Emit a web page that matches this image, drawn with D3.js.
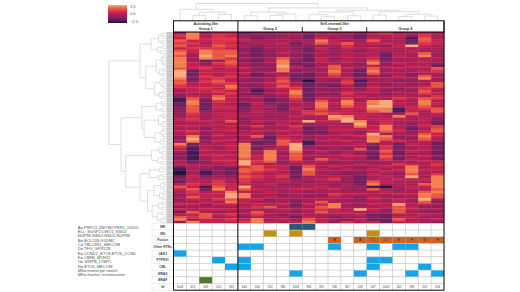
<!DOCTYPE html>
<html>
<head>
<meta charset="utf-8">
<script src="https://cdn.jsdelivr.net/npm/d3@7"></script>
<style>
  html, body { margin: 0; padding: 0; background: #fff; }
  svg { display: block; }
  text { font-family: "Liberation Sans", Arial, sans-serif; }
</style>
</head>
<body>
<div id="chart"></div>
<script>
//expression levels, 0 = darkest, 9 = lightest. one row per gene, one value per patient
var heatLevels = [
  [3,8,4,5,5,2,3,3,4,4,3,4,4,4,3,5,6,4,4,5,4],
  [6,8,4,6,5,3,3,3,3,4,2,4,4,3,2,4,4,5,3,6,4],
  [5,8,5,6,6,4,2,3,4,3,2,5,3,4,2,5,4,4,1,7,4],
  [7,5,5,6,6,5,4,4,4,4,4,8,5,4,4,7,4,4,2,7,5],
  [6,6,4,6,5,3,4,4,5,2,4,7,5,7,4,5,5,4,2,6,5],
  [7,5,5,7,6,4,3,4,4,3,3,4,4,6,4,4,3,5,9,5,4],
  [5,6,6,6,5,3,2,4,4,3,2,5,3,5,4,5,4,4,4,4,4],
  [7,5,8,7,7,3,2,3,4,4,2,4,4,4,3,4,4,4,5,4,4],
  [8,4,8,7,7,4,2,3,5,3,3,4,3,4,4,4,2,4,4,7,3],
  [7,4,9,7,8,3,2,3,4,3,2,4,4,5,4,5,2,5,4,8,4],
  [8,4,8,7,6,4,3,4,7,4,2,5,3,4,4,5,2,4,4,4,4],
  [8,4,2,4,7,3,2,4,8,3,2,5,4,5,4,7,3,4,4,5,4],
  [8,5,3,6,7,4,3,4,8,2,3,4,4,4,3,8,3,5,4,4,3],
  [8,5,5,5,6,4,3,3,9,4,2,4,7,4,4,5,4,4,5,5,2],
  [7,5,6,4,5,5,3,3,8,4,3,4,7,5,3,7,4,5,4,4,7],
  [9,2,5,5,5,4,4,4,8,3,4,4,8,4,2,8,4,4,4,5,6],
  [9,2,5,4,5,5,2,4,4,3,2,4,7,4,2,7,4,4,3,4,4],
  [9,3,6,5,6,4,2,3,5,2,2,4,6,4,2,4,3,5,3,7,4],
  [8,2,5,6,5,4,3,4,6,2,2,4,4,5,3,4,4,4,4,8,4],
  [7,3,6,7,5,3,3,4,7,3,0,4,3,6,1,4,4,3,3,4,4],
  [7,4,5,6,6,4,4,5,6,4,2,3,3,6,2,4,3,4,3,4,7],
  [6,5,5,5,8,3,3,4,7,5,2,3,2,4,2,5,4,4,4,5,7],
  [5,5,6,5,7,4,2,4,5,6,2,3,3,4,3,5,4,3,4,6,5],
  [3,5,5,6,5,4,1,3,4,8,2,4,3,5,4,5,3,4,3,7,4],
  [4,4,4,5,6,3,2,4,5,8,2,3,3,6,4,4,3,4,4,6,5],
  [3,5,4,7,5,4,4,3,4,7,2,4,4,5,5,4,4,5,4,4,6],
  [1,7,3,8,5,3,4,2,3,6,2,5,4,6,4,4,4,6,5,7,6],
  [1,8,2,6,5,4,4,2,3,5,3,7,4,8,4,8,9,4,4,8,4],
  [2,8,2,5,4,2,5,3,3,4,4,8,5,8,5,8,9,5,4,8,5],
  [2,7,2,5,5,2,4,4,2,4,4,8,4,7,5,9,9,4,5,7,4],
  [3,7,2,5,5,3,4,3,2,5,3,7,4,5,5,8,8,1,5,6,7],
  [3,7,3,4,4,3,5,4,3,4,6,6,5,5,4,7,8,1,5,4,7],
  [3,6,4,5,5,4,4,4,4,4,6,7,6,5,5,5,4,4,7,4,5],
  [3,5,3,4,5,4,4,3,3,5,4,4,9,8,5,4,4,8,4,4,4],
  [5,6,4,5,5,3,4,4,4,4,4,4,8,9,5,5,5,5,4,5,3],
  [4,5,5,4,7,3,5,4,4,5,9,5,5,9,8,4,5,4,4,4,2],
  [4,4,4,5,4,4,4,3,5,4,3,4,4,4,9,4,6,4,3,5,2],
  [5,5,4,4,5,4,6,4,4,6,3,3,4,4,8,5,8,4,3,5,6],
  [4,4,3,5,5,3,4,4,4,5,2,3,5,5,5,5,8,5,2,4,7],
  [5,6,4,4,5,4,5,4,5,4,2,2,4,4,3,5,7,5,3,5,7],
  [4,5,3,5,4,5,4,3,4,5,3,3,4,5,4,9,4,4,4,7,5],
  [3,8,3,5,4,4,7,2,5,4,3,4,4,4,5,8,8,3,4,8,5],
  [4,9,3,4,5,4,4,2,6,5,4,4,5,4,4,8,7,4,3,7,4],
  [3,8,3,5,4,4,2,2,7,5,1,4,4,5,4,8,5,5,4,5,3],
  [8,2,4,4,5,8,2,3,7,9,1,4,4,4,5,3,4,2,5,4,2],
  [6,2,4,4,5,8,3,3,5,9,3,4,4,4,4,2,6,2,4,4,2],
  [5,1,5,4,5,8,2,5,4,9,4,3,4,3,7,2,6,3,4,5,3],
  [4,1,4,4,4,8,4,8,4,8,3,5,3,4,4,3,7,2,5,4,2],
  [3,1,5,5,5,8,4,8,3,7,4,4,4,5,3,2,6,2,4,4,2],
  [3,1,4,5,4,8,5,8,4,7,4,4,4,5,5,2,7,3,4,5,3],
  [3,1,4,5,5,7,5,8,4,7,3,7,5,4,4,2,6,2,5,4,2],
  [4,2,3,5,5,9,6,7,3,5,4,5,3,4,3,4,4,4,4,5,5],
  [5,4,4,4,5,9,5,4,4,4,5,4,4,4,5,4,4,6,5,4,6],
  [2,4,4,3,3,6,7,5,5,2,7,4,5,4,3,4,5,4,8,4,5],
  [1,4,3,3,2,7,7,6,5,2,8,5,4,5,4,5,4,5,8,5,5],
  [0,4,1,3,2,7,6,5,4,2,7,4,4,3,3,4,5,4,8,4,4],
  [0,4,1,3,2,6,5,4,5,3,7,4,3,3,3,5,4,3,7,4,6],
  [2,5,3,4,3,7,6,5,6,2,4,4,5,4,2,4,5,4,9,4,8],
  [3,4,4,5,4,6,5,4,4,3,4,5,6,3,2,4,4,5,5,5,8],
  [2,5,4,6,4,6,4,4,5,4,3,4,4,3,2,7,5,4,4,4,8],
  [4,6,5,6,5,5,4,5,3,3,4,4,3,4,2,8,4,4,4,7,8],
  [7,5,1,7,5,9,4,4,4,4,4,5,4,4,4,1,0,4,5,5,8],
  [5,7,2,8,5,7,5,4,4,5,5,4,5,3,3,7,4,3,4,4,7],
  [4,6,4,5,8,5,4,5,4,4,3,4,4,4,4,4,5,4,4,7,8],
  [3,5,5,5,9,8,4,4,3,4,4,3,6,5,5,4,4,5,5,8,7],
  [4,7,5,5,9,8,4,5,4,4,3,4,5,4,3,5,4,3,4,8,7],
  [3,5,4,6,7,5,5,3,4,3,4,4,4,4,3,5,4,5,4,9,4],
  [4,4,5,4,8,5,4,4,4,3,4,7,4,4,4,4,4,5,4,7,3],
  [5,5,3,5,5,4,5,4,5,2,5,5,8,4,3,5,4,9,4,5,4],
  [3,4,4,4,4,5,6,7,4,3,4,7,8,4,4,4,5,7,5,3,3],
  [5,4,5,5,5,4,4,4,5,4,5,6,5,4,9,5,3,7,5,4,4],
  [2,7,4,3,4,4,7,4,4,3,4,7,5,5,4,4,4,7,4,3,3],
  [4,5,7,5,6,4,6,4,3,4,4,4,4,4,5,2,2,4,4,5,4],
  [7,6,7,4,5,3,5,4,4,2,5,4,3,4,4,3,2,5,5,4,4],
  [8,4,5,5,6,5,8,4,5,4,7,5,4,3,5,2,2,7,4,4,5],
  [3,8,5,5,5,6,8,5,4,5,8,5,3,6,4,5,2,5,5,4,3]
];

var patientIds = ["1024","415","343","241","353","344","244","322","385","1009","394","351","536","307","423","247","1003","242","296","253","594"];

//groups: first and last patient index of each
var groupNames = [["Activating-like", "Group 1"], ["", "Group 2"], ["Self-renewal-like", "Group 3"], ["", "Group 4"]];
var groupStarts = [0, 5, 10, 15];
var groupEnds = [4, 9, 14, 20];

//annotation rows, and the patients marked in each
var annotRows = ["MK", "MS", "Fusion", "Other RTKs", "JAK3", "PTPN11", "CBL", "NRAS", "BRAF", "Id"];
var mkCols = [9, 10];
var msCols = [7, 9, 15];
var fusionCols = [12, 14, 15, 16, 17, 18, 19, 20];
var fusionLetters = ["A", "B", "C", "D", "E", "F", "G", "H"];
var rtkCols = [5, 6, 12, 15, 17, 18];
var jakCols = [0];
var ptpnCols = [3, 5, 15, 16];
var cblCols = [4, 5, 15, 19];
var rasCols = [9, 14, 18, 20];
var brafCols = [2];

var noteLines = [
  "A= PSPC1-ZMYM2;PER1_DDX5;",
  "ELL_SUGP2;LMO1_NSD1;",
  "NUP98-NSD1;NSD1-NUP98",
  "B= BCL11B-G5DMC",
  "C= TBL1XR1_MECOM",
  "D= TFG_GPR128",
  "E= CCND2_ETV6;ETV6_CCND",
  "F= CBFB_MYH11",
  "G= SIRPB_LTBP1",
  "H= ETV6_MECOM",
  "MS= monocyte switch",
  "MK= marker chromosome"
];

var legendTicks = [2.5, 0, -2.5];

//dendrograms as [height, left, right], 0 is a leaf
var colTree = [100,
  [66, 0, [49, [30, 1, 2], [36, 3, 4]]],
  [74,
    [50, [28, 5, 6], [38, [30, 7, 8], 9]],
    [60,
      [50, [34, 10, [22, 11, 12]], [28, 13, 14]],
      [52, [32, 15, 16], [37, [24, 17, 18], [26, 19, 20]]]]]];

var rowU1 = [27,[14,[8,0,[5,0,0]],[9,0,0]],[16,[7,0,0],[10,0,0]]];
var rowU2a = [18,[9,[5,0,0],[6,0,[3,0,0]]],[12,[6,0,0],[8,0,0]]];
var rowU2b = [21,[11,[6,0,0],[7,0,[4,0,0]]],[13,[7,0,0],[9,0,0]]];
var rowL1a = [18,[8,0,[5,0,0]],[9,0,0]];
var rowL1b1 = [14,[7,0,[4,0,0]],[8,[5,0,0],0]];
var rowL1b2 = [20,[9,[5,0,0],[6,0,0]],[11,[6,0,0],0]];
var rowL2a = [26,[13,[6,0,0],[8,0,0]],[15,[7,0,0],[9,0,0]]];
var rowL2b1 = [30,[12,[6,0,0],0],[14,[7,0,0],0]];
var rowL2b2 = [33,[22,[10,[5,0,0],[6,0,0]],[12,[6,0,0],[7,0,0]]],[25,[14,[7,0,0],[8,0,0]],[16,[9,0,0],[10,[5,0,0],0]]]];
var rowTree = [100,
  [46, rowU1, [36, rowU2a, rowU2b]],
  [79,
    [43, rowL1a, [39, rowL1b1, rowL1b2]],
    [71, rowL2a, [46, rowL2b1, rowL2b2]]]];

var levelColors = ["#241238", "#471a55", "#701f5e", "#8e1f5c", "#aa1e56", "#c4214e", "#da3347", "#ea5642", "#f37e4e", "#f8ab7c"];

var width = 520;
var height = 292;
var gridLine = "#c2c2c2";
var treeLine = "#cfcfcf";

var svg = d3.select("#chart").append("svg")
    .attr("width", width)
    .attr("height", height);

var x = d3.scaleBand().domain(d3.range(patientIds.length)).range([173.5, 444]);
var y = d3.scaleBand().domain(d3.range(heatLevels.length)).range([32, 223.4]);
var yAnnot = d3.scaleBand().domain(annotRows).range([223.4, 290.2]);
var color = d3.scaleLinear().domain(d3.range(levelColors.length)).range(levelColors);

//heatmap
var rows = svg.append("g").selectAll("g")
    .data(heatLevels)
    .enter().append("g")
    .attr("transform", function(d, i) { return "translate(0," + y(i) + ")"; });

rows.selectAll("rect")
    .data(function(d) { return d; })
    .enter().append("rect")
    .attr("x", function(d, i) { return x(i); })
    .attr("width", x.bandwidth() + 0.3)
    .attr("height", y.bandwidth() + 0.3)
    .attr("fill", function(d) { return color(d); });

//gene labels are too small to read in the figure, they show as a grey band
svg.append("g").selectAll("line")
    .data(heatLevels)
    .enter().append("line")
    .attr("x1", 166.5)
    .attr("x2", 173)
    .attr("y1", function(d, i) { return y(i) + y.bandwidth() / 2; })
    .attr("y2", function(d, i) { return y(i) + y.bandwidth() / 2; })
    .attr("stroke", "#c6c6c6")
    .attr("stroke-width", y.bandwidth());

//walks a [height, left, right] tree, calls draw for each merge. returns position of the node
function walkTree(node, leafPos, draw) {
  if (!Array.isArray(node)) { return { pos: leafPos(node), h: 0 }; }
  var a = walkTree(node[1], leafPos, draw);
  var b = walkTree(node[2], leafPos, draw);
  draw(a, b, node[0]);
  return { pos: (a.pos + b.pos) / 2, h: node[0] };
}

//column dendrogram
var colHeight = d3.scaleLinear().domain([0, 100]).range([20.5, 3.5]);
var colPaths = [];
walkTree(colTree, function(c) { return x(c) + x.bandwidth() / 2; }, function(a, b, h) {
  colPaths.push("M" + a.pos + "," + colHeight(a.h) + "V" + colHeight(h) + "H" + b.pos + "V" + colHeight(b.h));
});

svg.append("g").selectAll("path")
    .data(colPaths)
    .enter().append("path")
    .attr("d", function(d) { return d; })
    .attr("fill", "none")
    .attr("stroke", treeLine)
    .attr("stroke-width", 0.7);

//row dendrogram
var rowHeight = d3.scaleLinear().domain([0, 100]).range([166.5, 109]);
var leafCount = 0;
var rowPaths = [];
walkTree(rowTree, function() { return y(leafCount++) + y.bandwidth() / 2; }, function(a, b, h) {
  rowPaths.push("M" + rowHeight(a.h) + "," + a.pos + "H" + rowHeight(h) + "V" + b.pos + "H" + rowHeight(b.h));
});

svg.append("g").selectAll("path")
    .data(rowPaths)
    .enter().append("path")
    .attr("d", function(d) { return d; })
    .attr("fill", "none")
    .attr("stroke", treeLine)
    .attr("stroke-width", 0.7);

//annotation grid
var grid = svg.append("g");

annotRows.forEach(function(name) {
  grid.append("g").selectAll("rect")
      .data(d3.range(patientIds.length))
      .enter().append("rect")
      .attr("x", function(c) { return x(c); })
      .attr("y", yAnnot(name))
      .attr("width", x.bandwidth())
      .attr("height", yAnnot.bandwidth())
      .attr("fill", "#fff")
      .attr("stroke", gridLine)
      .attr("stroke-width", 0.5);

  grid.append("rect")
      .attr("x", 152)
      .attr("y", yAnnot(name))
      .attr("width", x.range()[0] - 152)
      .attr("height", yAnnot.bandwidth())
      .attr("fill", "#fff")
      .attr("stroke", "#e2e2e2")
      .attr("stroke-width", 0.5);

  grid.append("text")
      .attr("x", (152 + x.range()[0]) / 2)
      .attr("y", yAnnot(name) + yAnnot.bandwidth() / 2 + 1.2)
      .attr("text-anchor", "middle")
      .attr("font-size", 3.3)
      .attr("font-weight", "bold")
      .attr("fill", "#444")
      .text(name);
});

//marked cells of one annotation row
function markCells(rowName, cols, fill) {
  grid.append("g").selectAll("rect")
      .data(cols)
      .enter().append("rect")
      .attr("x", function(c) { return x(c); })
      .attr("y", yAnnot(rowName) + 0.25)
      .attr("width", x.bandwidth())
      .attr("height", yAnnot.bandwidth() - 0.5)
      .attr("fill", fill);
}

markCells("MK", mkCols, "#245a7e");
markCells("MS", msCols, "#c48f12");
markCells("Fusion", fusionCols, "#cf651c");
markCells("Other RTKs", rtkCols, "#12a5ea");
markCells("JAK3", jakCols, "#12a5ea");
markCells("PTPN11", ptpnCols, "#12a5ea");
markCells("CBL", cblCols, "#12a5ea");
markCells("NRAS", rasCols, "#12a5ea");
markCells("BRAF", brafCols, "#4f7a2c");

grid.append("g").selectAll("text")
    .data(fusionCols)
    .enter().append("text")
    .attr("x", function(c) { return x(c) + x.bandwidth() / 2; })
    .attr("y", yAnnot("Fusion") + yAnnot.bandwidth() / 2 + 1.2)
    .attr("text-anchor", "middle")
    .attr("font-size", 3.4)
    .attr("fill", "#222")
    .text(function(c, i) { return fusionLetters[i]; });

grid.append("g").selectAll("text")
    .data(patientIds)
    .enter().append("text")
    .attr("x", function(d, i) { return x(i) + x.bandwidth() / 2; })
    .attr("y", yAnnot("Id") + yAnnot.bandwidth() / 2 + 1.1)
    .attr("text-anchor", "middle")
    .attr("font-size", 3)
    .attr("fill", "#444")
    .text(function(d) { return d; });

//group header
var headerTop = 20.8;
var headerBottom = y.range()[0];

svg.append("rect")
    .attr("x", x.range()[0])
    .attr("y", headerTop)
    .attr("width", x.range()[1] - x.range()[0])
    .attr("height", headerBottom - headerTop)
    .attr("fill", "#fff")
    .attr("stroke", "#000")
    .attr("stroke-width", 1);

var groups = svg.append("g").selectAll("g")
    .data(groupNames)
    .enter().append("g")
    .attr("transform", function(d, i) {
      return "translate(" + (x(groupStarts[i]) + x(groupEnds[i]) + x.bandwidth()) / 2 + ",0)";
    });

groups.append("text")
    .attr("y", 25)
    .attr("text-anchor", "middle")
    .attr("font-size", 3.6)
    .attr("font-weight", "bold")
    .attr("fill", "#333")
    .text(function(d) { return d[0]; });

groups.append("text")
    .attr("y", 29.6)
    .attr("text-anchor", "middle")
    .attr("font-size", 3.6)
    .attr("font-weight", "bold")
    .attr("fill", "#333")
    .text(function(d) { return d[1]; });

//short ticks between groups 2/3 and 3/4
svg.append("g").selectAll("line")
    .data([groupStarts[2], groupStarts[3]])
    .enter().append("line")
    .attr("x1", function(c) { return x(c); })
    .attr("x2", function(c) { return x(c); })
    .attr("y1", 27)
    .attr("y2", headerBottom)
    .attr("stroke", "#000")
    .attr("stroke-width", 0.8);

//heavy frame: left, group 1 divider, right, bottom
var frameBottom = yAnnot.range()[1];

svg.append("g").selectAll("line")
    .data([x.range()[0], x(groupStarts[1]), x.range()[1]])
    .enter().append("line")
    .attr("x1", function(d) { return d; })
    .attr("x2", function(d) { return d; })
    .attr("y1", headerTop)
    .attr("y2", frameBottom)
    .attr("stroke", "#111")
    .attr("stroke-width", 1);

svg.append("line")
    .attr("x1", x.range()[0])
    .attr("x2", x.range()[1])
    .attr("y1", frameBottom)
    .attr("y2", frameBottom)
    .attr("stroke", "#111")
    .attr("stroke-width", 1);

//fusion key
svg.append("g").selectAll("text")
    .data(noteLines)
    .enter().append("text")
    .attr("x", 77.7)
    .attr("y", function(d, i) { return 228.6 + i * 4.35; })
    .attr("font-size", 4.1)
    .attr("fill", "#555")
    .text(function(d) { return d; });

//colour legend
var legendScale = d3.scaleLinear().domain([3, -3]).range([5, 23]);

var gradient = svg.append("defs").append("linearGradient")
    .attr("id", "legend-gradient")
    .attr("x1", 0).attr("x2", 0).attr("y1", 0).attr("y2", 1);

gradient.selectAll("stop")
    .data(levelColors.slice().reverse())
    .enter().append("stop")
    .attr("offset", function(d, i) { return i / (levelColors.length - 1); })
    .attr("stop-color", function(d) { return d; });

svg.append("rect")
    .attr("x", 108)
    .attr("y", legendScale.range()[0])
    .attr("width", 19)
    .attr("height", legendScale.range()[1] - legendScale.range()[0])
    .attr("fill", "url(#legend-gradient)");

svg.append("g").selectAll("text")
    .data(legendTicks)
    .enter().append("text")
    .attr("x", 130)
    .attr("y", function(d) { return legendScale(d) + 1.3; })
    .attr("font-size", 4)
    .attr("fill", "#555")
    .text(function(d) { return d3.format(".1f")(d).replace("-", "\u2212"); });
</script>
</body>
</html>
